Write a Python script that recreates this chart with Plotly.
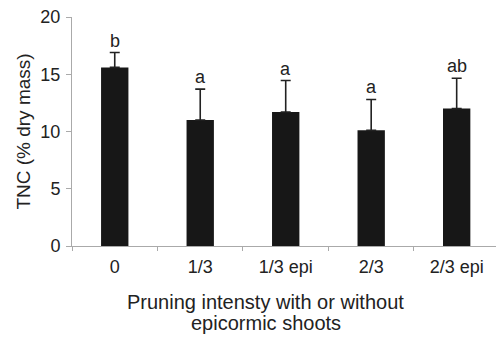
import plotly.graph_objects as go

categories = ["0", "1/3", "1/3 epi", "2/3", "2/3 epi"]
means = [15.6, 11.0, 11.7, 10.1, 12.0]
err_plus = [1.3, 2.7, 2.75, 2.7, 2.65]
letters = ["b", "a", "a", "a", "ab"]
xtitle_lines = ["Pruning intensty with or without", "epicormic shoots"]

font_family = "Liberation Sans, Arial, Helvetica, sans-serif"
text_color = "#222222"

fig = go.Figure()
fig.add_trace(go.Bar(
    x=categories, y=means,
    marker=dict(color="#171717", line=dict(width=0)),
    width=0.32,
    error_y=dict(type="data", symmetric=False, array=err_plus,
                 arrayminus=[0] * len(means), color="#222222",
                 thickness=1.6, width=5),
))
for c, m, e, l in zip(categories, means, err_plus, letters):
    fig.add_annotation(x=c, y=m + e, text=l, showarrow=False,
                       yanchor="bottom", yshift=0,
                       font=dict(size=18, color=text_color))

# x-axis title as two lines (tight line spacing as in the reference)
for i, line in enumerate(xtitle_lines):
    fig.add_annotation(x=0.4575, y=-0.2445 - 0.0917 * i,
                       xref="paper", yref="paper",
                       text=line, showarrow=False,
                       xanchor="center", yanchor="middle",
                       font=dict(size=20, color=text_color))

fig.update_layout(
    width=496, height=343,
    margin=dict(l=72, r=0, t=17, b=97),
    plot_bgcolor="white", paper_bgcolor="white",
    showlegend=False,
    font=dict(family=font_family, size=18, color=text_color),
)
fig.update_xaxes(
    type="category", range=[-0.5, 4.46], showline=True,
    linecolor="#aaaaaa", linewidth=1,
    ticks="outside", ticklen=4, tickcolor="#aaaaaa", tickson="boundaries",
    showgrid=False, zeroline=False, tickfont=dict(size=18),
    ticklabelstandoff=4,
)
fig.update_yaxes(
    range=[0, 20], tickvals=[0, 5, 10, 15, 20], showline=True,
    linecolor="#aaaaaa", linewidth=1, ticks="outside", ticklen=5,
    tickcolor="#aaaaaa", showgrid=False, zeroline=False,
    title=dict(text="TNC (% dry mass)", standoff=4, font=dict(size=19)),
    tickfont=dict(size=18), ticklabelstandoff=2,
)
fig.write_html("out.html")
